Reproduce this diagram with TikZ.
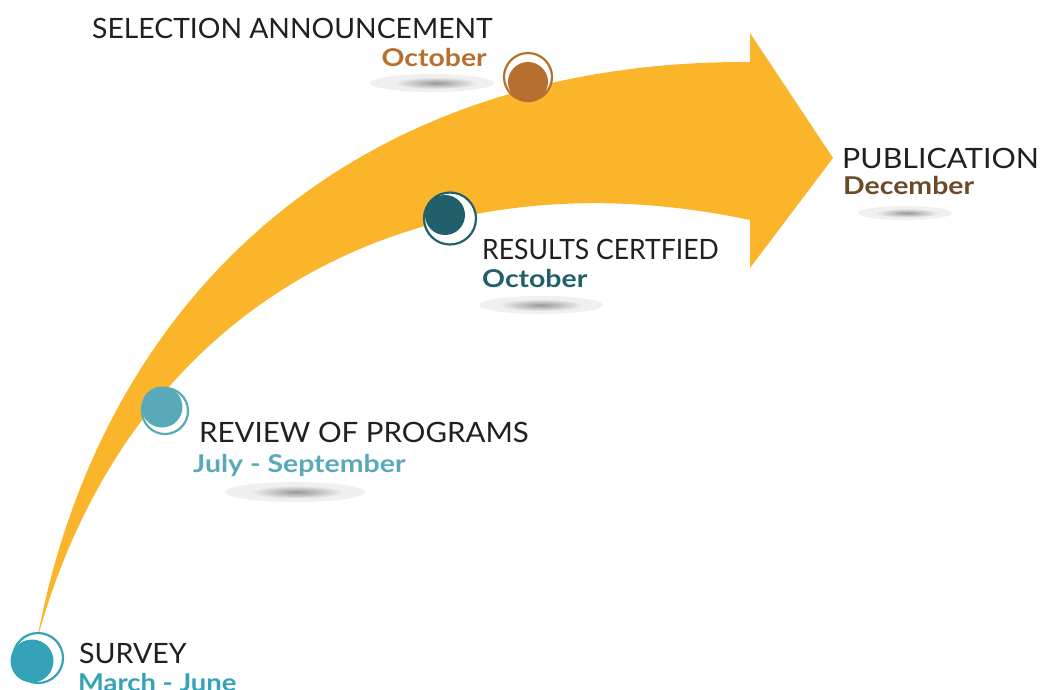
\documentclass[tikz,border=0pt]{standalone}
\usepackage{graphicx}
\usepackage{fontspec}
\setmainfont{Lato}
\newfontfamily\titlef{Lato}
\newfontfamily\monthf{Lato}[FakeStretch=1.16]
\definecolor{arr}{RGB}{251,181,43}
\definecolor{csurvey}{RGB}{52,163,185}
\definecolor{creview}{RGB}{88,170,185}
\definecolor{csel}{RGB}{183,111,48}
\definecolor{cres}{RGB}{33,96,107}
\definecolor{cpub}{RGB}{107,74,42}
\definecolor{ctext}{RGB}{35,31,32}
\newcommand{\hstretch}[2]{\scalebox{#1}[1]{#2}}
\begin{document}
\begin{tikzpicture}[x=1pt,y=-1pt,
  title/.style={anchor=base west, inner sep=0, font=\titlef\fontsize{28}{28}\selectfont, text=ctext},
  month/.style={anchor=base west, inner sep=0, font=\monthf\bfseries\fontsize{24.5}{24.5}\selectfont},
  dot/.style={circle, inner sep=0, minimum size=#1},
  ring/.style={circle, draw, fill=white, line width=2.2pt, inner sep=0, minimum size=#1},
  halo/.style={fill=black!6},
  core/.style={inner color=black!40, outer color=black!6}]
\useasboundingbox (0,0) rectangle (1043,689);
% shadows
\fill[halo] (432,83) ellipse (62 and 9);
\shade[core] (436,83) ellipse (42 and 6);
\fill[halo] (905,213) ellipse (47 and 7);
\shade[core] (907,213) ellipse (32 and 4.5);
\fill[halo] (541,305) ellipse (62 and 9);
\shade[core] (541,305) ellipse (42 and 6);
\fill[halo] (295,492) ellipse (70 and 10);
\shade[core] (297,492) ellipse (47 and 6.5);
% arrow
\fill[arr] (37,640) .. controls (100,300) and (350,60) .. (750,62)
  -- (750,33) -- (833,158) -- (750,268) -- (750,220)
  .. controls (420,150) and (130,300) .. (37,640) -- cycle;
% markers
\node[ring=50pt, draw=csurvey] (r1) at (38,658) {};
\node[dot=43pt, fill=csurvey] (d1) at (32,661) {};
\node[ring=46pt, draw=creview] (r2) at (165,411) {};
\node[dot=41pt, fill=creview] (d2) at (162,407) {};
\node[ring=48pt, draw=csel] (r3) at (528,77) {};
\node[dot=40pt, fill=csel] (d3) at (528,82) {};
\node[ring=52pt, draw=cres] (r4) at (450,218.5) {};
\node[dot=40pt, fill=cres] (d4) at (445,215) {};
% texts
\node[title] (t3) at (92,38) {\hstretch{1.01}{SELECTION ANNOUNCEMENT}};
\node[month, text=csel, anchor=base east] (m3) at (487,66) {October};
\node[title] (t5) at (842,168) {\hstretch{1.084}{PUBLICATION}};
\node[month, text=cpub] (m5) at (843,194) {December};
\node[title] (t4) at (482,259) {\hstretch{0.948}{RESULTS CERTFIED}};
\node[month, text=cres] (m4) at (482,287) {October};
\node[title] (t2) at (199,442) {\hstretch{1.053}{REVIEW OF PROGRAMS}};
\node[month, text=creview] (m2) at (193,472) {July - September};
\node[title] (t1) at (79,663) {\hstretch{1.02}{SURVEY}};
\node[month, text=csurvey] (m1) at (78,691) {\hstretch{0.963}{March - June}};
\end{tikzpicture}
\end{document}
